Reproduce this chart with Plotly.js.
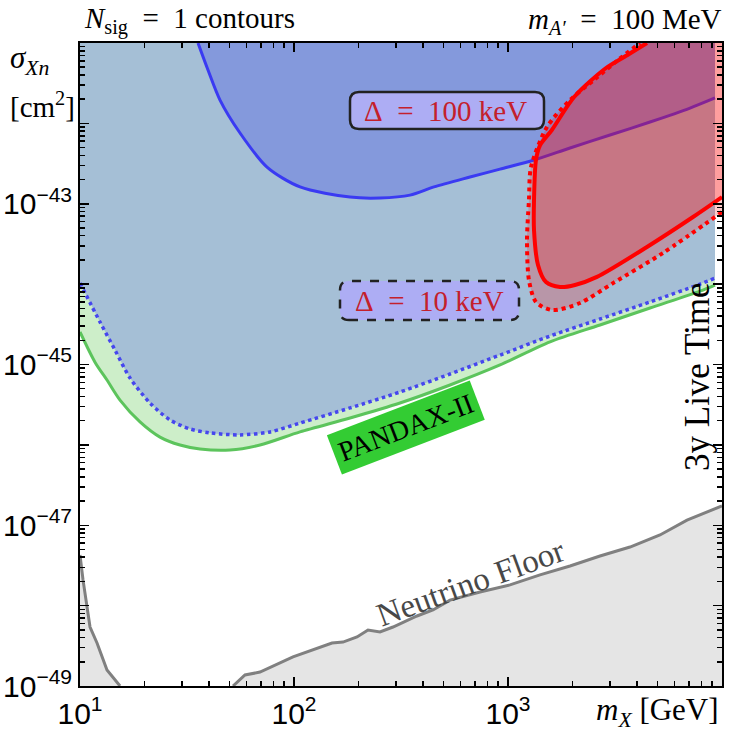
<!DOCTYPE html>
<html>
<head>
<meta charset="utf-8">
<script src="https://cdn.plot.ly/plotly-3.0.1.min.js"></script>
<style>
  html, body { margin: 0; padding: 0; background: #ffffff; }
  #chart { width: 734px; height: 740px; }
</style>
</head>
<body>
<div id="chart"></div>
<script>
// Dark-matter mass m_X [GeV] and cross section sigma_Xn [cm^2] along each contour.

// PANDAX-II exclusion limit
const pandaxMass  = [10, 11.75, 13.37, 15.38, 19.07, 23.65, 29.34, 36.37, 50.23, 69.36, 106.7, 182.7, 312.8, 535.8, 917.7, 1572, 2691, 4609, 7895, 9275];
const pandaxSigma = [2.54e-45, 1.07e-45, 6.41e-46, 3.61e-46, 1.93e-46, 1.25e-46, 9.96e-47, 8.88e-47, 8.63e-47, 9.96e-47, 1.45e-46, 2.16e-46, 3.32e-46, 5.56e-46, 9.86e-46, 1.91e-45, 3.10e-45, 5.05e-45, 8.20e-45, 9.75e-45];

// N_sig = 1, Delta = 10 keV (blue, dotted)
const blue10Mass  = [10, 12.40, 14.58, 17.13, 21.24, 26.34, 32.66, 40.50, 55.94, 77.25, 106.7, 182.7, 312.8, 535.8, 917.7, 1572, 2691, 4609, 7895, 9275];
const blue10Sigma = [1.03e-44, 3.38e-45, 1.51e-45, 6.79e-46, 3.32e-46, 2.04e-46, 1.58e-46, 1.41e-46, 1.33e-46, 1.45e-46, 1.87e-46, 2.88e-46, 4.55e-46, 7.62e-46, 1.31e-45, 2.26e-45, 3.68e-45, 6.00e-45, 1.00e-44, 1.19e-44];

// N_sig = 1, Delta = 100 keV (blue, solid)
const blue100Mass  = [35.60, 39.64, 45.11, 55.94, 74.79, 106.7, 182.7, 252.3, 348.4, 451.1, 664.4, 917.7, 1323, 1949, 2997, 4609, 7087, 9275];
const blue100Sigma = [1e-41, 4.61e-42, 1.95e-42, 7.59e-43, 2.86e-43, 1.62e-43, 1.21e-43, 1.18e-43, 1.28e-43, 1.62e-43, 2.15e-43, 2.70e-43, 3.50e-43, 4.94e-43, 7.16e-43, 1.04e-42, 1.55e-42, 2.07e-42];

// 3y live time, Delta = 100 keV (red, solid)
const red100Mass  = [10000, 7321, 4461, 2605, 2056, 1750, 1505, 1381, 1323, 1323, 1351, 1411, 1603, 2037, 2861, 3665, 4461];
const red100Sigma = [1.21e-43, 6.84e-44, 2.90e-44, 1.23e-44, 9.75e-45, 9.20e-45, 1.06e-44, 1.73e-44, 4.71e-44, 1.11e-43, 3.50e-43, 5.34e-43, 8.28e-43, 2.13e-42, 4.85e-42, 7.24e-42, 1e-41];

// 3y live time, Delta = 10 keV (red, dotted)
const red10Mass  = [10000, 5301, 3096, 2170, 1606, 1351, 1253, 1227, 1253, 1281, 1521, 1949, 2523, 3266, 4140];
const red10Sigma = [7.89e-44, 2.44e-44, 1.03e-44, 5.82e-45, 4.76e-45, 6.00e-45, 1.12e-44, 3.54e-44, 1.11e-43, 2.86e-43, 9.02e-43, 1.95e-42, 3.47e-42, 6.14e-42, 1e-41];

// Neutrino floor, low-mass and high-mass branches
const nuLowMass  = [10, 10.33, 11.14, 12.01, 13.37, 15.38];
const nuLowSigma = [4.27e-48, 2.09e-48, 5.42e-49, 3.43e-49, 1.58e-49, 1e-49];
const nuHighMass  = [51.88, 59.02, 69.36, 98.93, 150.5, 169.4, 197.0, 221.7, 252.3, 290.1, 375.6, 446.2, 535.8, 740.0, 1022, 1411, 1949, 2691, 3716, 5132, 6862, 10000];
const nuHighSigma = [1e-49, 1.37e-49, 1.49e-49, 2.30e-49, 3.43e-49, 3.52e-49, 4.07e-49, 4.97e-49, 4.70e-49, 5.42e-49, 7.43e-49, 8.83e-49, 1.17e-48, 1.48e-48, 1.81e-48, 2.41e-48, 3.11e-48, 4.14e-48, 5.36e-48, 7.56e-48, 1.16e-47, 1.74e-47];

// Axis ticks
const xTickVals = [10, 100, 1000, 10000];
const xTickText = ['10<sup>1</sup>', '10<sup>2</sup>', '10<sup>3</sup>', ''];
const yTickVals = [1e-49, 1e-48, 1e-47, 1e-46, 1e-45, 1e-44, 1e-43, 1e-42, 1e-41];
const yTickText = ['10<sup>−49</sup>', '', '10<sup>−47</sup>', '', '10<sup>−45</sup>', '', '10<sup>−43</sup>', '', ''];

const X_MIN = 10, X_MAX = 1e4, Y_MIN = 1e-49, Y_MAX = 1e-41;
const first = a => a[0];
const last = a => a[a.length - 1];

// minor log ticks (2..9 within each decade)
function minorTicks(decades) {
  const out = [];
  decades.forEach(d => { for (let k = 2; k <= 9; k++) out.push(k * d); });
  return out;
}
const xMinor = minorTicks([10, 100, 1000]);
const yMinor = minorTicks([1e-49, 1e-48, 1e-47, 1e-46, 1e-45, 1e-44, 1e-43, 1e-42]);

// A filled region bounded by a contour and the frame: an invisible "cap" path that
// runs from the contour's start to its end around the outside, then the contour
// itself filled 'tonexty' against it.
function region(cx, cy, capX, capY, fillcolor, line, shape) {
  return [
    { x: capX, y: capY, mode: 'lines', line: { width: 0 }, type: 'scatter', hoverinfo: 'skip' },
    { x: cx, y: cy, mode: 'lines', fill: 'tonexty', fillcolor,
      line: Object.assign({ shape: shape || 'spline', smoothing: 0.8 }, line || { width: 0 }), type: 'scatter' }
  ];
}

const traces = [
  // neutrino floor
  ...region(nuLowMass, nuLowSigma,
            [first(nuLowMass), X_MIN, last(nuLowMass)], [first(nuLowSigma), Y_MIN, Y_MIN],
            '#e5e5e5', { color: '#808080', width: 3 }, 'linear'),
  ...region(nuHighMass, nuHighSigma,
            [first(nuHighMass), X_MAX, X_MAX], [Y_MIN, Y_MIN, last(nuHighSigma)],
            '#e5e5e5', { color: '#808080', width: 3 }, 'linear'),

  // PANDAX-II excluded region
  ...region(pandaxMass, pandaxSigma,
            [X_MIN, X_MIN, last(pandaxMass), last(pandaxMass)], [first(pandaxSigma), Y_MAX, Y_MAX, last(pandaxSigma)],
            '#cdeec9', { color: '#5cc45c', width: 3 }),

  // Delta = 10 keV region (line drawn later)
  ...region(blue10Mass, blue10Sigma,
            [X_MIN, X_MIN, last(blue10Mass), last(blue10Mass)], [first(blue10Sigma), Y_MAX, Y_MAX, last(blue10Sigma)],
            '#a5bfd6', null),
  // Delta = 100 keV region
  ...region(blue100Mass, blue100Sigma,
            [first(blue100Mass), last(blue100Mass), last(blue100Mass)], [Y_MAX, Y_MAX, last(blue100Sigma)],
            '#8499dc', { color: '#3a3af2', width: 3 }),
  { x: blue10Mass, y: blue10Sigma, mode: 'lines', line: { color: '#4646ee', width: 3.5, dash: 'dot', shape: 'spline', smoothing: 0.8 }, type: 'scatter' },

  // 3y live-time regions
  ...region(red10Mass, red10Sigma,
            [first(red10Mass), X_MAX, last(red10Mass)], [first(red10Sigma), Y_MAX, Y_MAX],
            'rgba(255,0,0,0.21)', { color: '#ff0000', width: 4, dash: 'dot' }),
  ...region(red100Mass, red100Sigma,
            [first(red100Mass), X_MAX, last(red100Mass)], [first(red100Sigma), Y_MAX, Y_MAX],
            'rgba(255,0,0,0.21)', { color: '#ff0000', width: 4 })
];

// plot-area geometry in pixels, used to place the labels
const W = 734, H = 740, L = 80, R = 12, T = 43, B = 54;
const PW = W - L - R, PH = H - T - B;
const px = x => (x - L) / PW;
const py = y => (H - B - y) / PH;

function roundedBox(x0p, y0p, x1p, y1p, r) {
  const x0 = px(x0p), x1 = px(x1p), y0 = py(y1p), y1 = py(y0p);
  const rx = r / PW, ry = r / PH;
  return `M${x0 + rx},${y0} L${x1 - rx},${y0} Q${x1},${y0} ${x1},${y0 + ry} L${x1},${y1 - ry} Q${x1},${y1} ${x1 - rx},${y1} ` +
         `L${x0 + rx},${y1} Q${x0},${y1} ${x0},${y1 - ry} L${x0},${y0 + ry} Q${x0},${y0} ${x0 + rx},${y0} Z`;
}

const serif = 'Liberation Serif, Times New Roman, serif';
const sans = 'Liberation Sans, Arial, sans-serif';
const SP = '\u2002';   // wider space around relation signs

const shapes = [
  { type: 'path', xref: 'paper', yref: 'paper', path: roundedBox(350, 92, 544, 129, 9),
    fillcolor: '#adadf4', line: { color: '#222222', width: 2.5 } },
  { type: 'path', xref: 'paper', yref: 'paper', path: roundedBox(340, 281, 519, 320, 9),
    fillcolor: '#adadf4', line: { color: '#222222', width: 2.5, dash: 'dash' } },
  // red boundary where the Delta = 100 keV region meets the right frame
  { type: 'line', xref: 'paper', yref: 'y', x0: 1, x1: 1,
    y0: Math.log10(first(red100Sigma)), y1: Math.log10(Y_MAX),
    line: { color: '#ff0000', width: 3 }, layer: 'above' }
];

const ann = (text, x, y, opts) => Object.assign({
  text, xref: 'paper', yref: 'paper', x: px(x), y: py(y), showarrow: false,
  xanchor: 'center', yanchor: 'middle',
  font: { family: serif, size: 29, color: '#000000' }
}, opts || {});

const annotations = [
  ann(`<i>N</i><sub>sig</sub>${SP}=${SP}1 contours`, 82, 21, { xanchor: 'left' }),
  ann(`<i>m</i><sub><i>A′</i></sub>${SP}=${SP}100 MeV`, 724, 21, { xanchor: 'right' }),
  ann('<i>σ</i><sub><i>Xn</i></sub>', 8, 60, { xanchor: 'left', font: { family: serif, size: 31, color: '#000' } }),
  ann('[cm<sup>2</sup>]', 8, 105, { xanchor: 'left' }),
  ann(`<i>m</i><sub><i>X</i></sub> [GeV]`, 721, 712, { xanchor: 'right', font: { family: serif, size: 31, color: '#000' } }),
  ann(`Δ${SP}=${SP}100 keV`, 445, 111, { font: { family: serif, size: 29, color: '#c4202c' } }),
  ann(`Δ${SP}=${SP}10 keV`, 429, 301, { font: { family: serif, size: 29, color: '#c4202c' } }),
  ann('PANDAX-II', 406, 428, { textangle: -21, bgcolor: '#33cc33', borderpad: 5, font: { family: serif, size: 28, color: '#000' } }),
  ann('3y Live Time', 697, 377, { textangle: -90, font: { family: serif, size: 35, color: '#000' } }),
  ann('Neutrino Floor', 470, 583, { textangle: -20, font: { family: serif, size: 33, color: '#484848' } })
];

const axisCommon = {
  type: 'log', showgrid: false, zeroline: false,
  showline: true, linecolor: '#000000', linewidth: 2, mirror: 'allticks',
  ticks: 'inside', ticklen: 9, tickwidth: 1.5, tickcolor: '#000000',
  tickmode: 'array',
  tickfont: { family: sans, size: 30, color: '#000000' }
};

const layout = {
  width: W, height: H,
  margin: { l: L, r: R, t: T, b: B, pad: 0 },
  paper_bgcolor: '#ffffff', plot_bgcolor: '#ffffff',
  showlegend: false,
  xaxis: Object.assign({}, axisCommon, {
    range: [1, 4], tickvals: xTickVals, ticktext: xTickText,
    minor: { tickmode: 'array', tickvals: xMinor, ticks: 'inside', ticklen: 5, tickwidth: 1.5, tickcolor: '#000000' }
  }),
  yaxis: Object.assign({}, axisCommon, {
    range: [-49, -41], tickvals: yTickVals, ticktext: yTickText,
    minor: { tickmode: 'array', tickvals: yMinor, ticks: 'inside', ticklen: 5, tickwidth: 1.5, tickcolor: '#000000' }
  }),
  shapes, annotations
};

Plotly.newPlot('chart', traces, layout, { staticPlot: true, displayModeBar: false });
</script>
</body>
</html>
